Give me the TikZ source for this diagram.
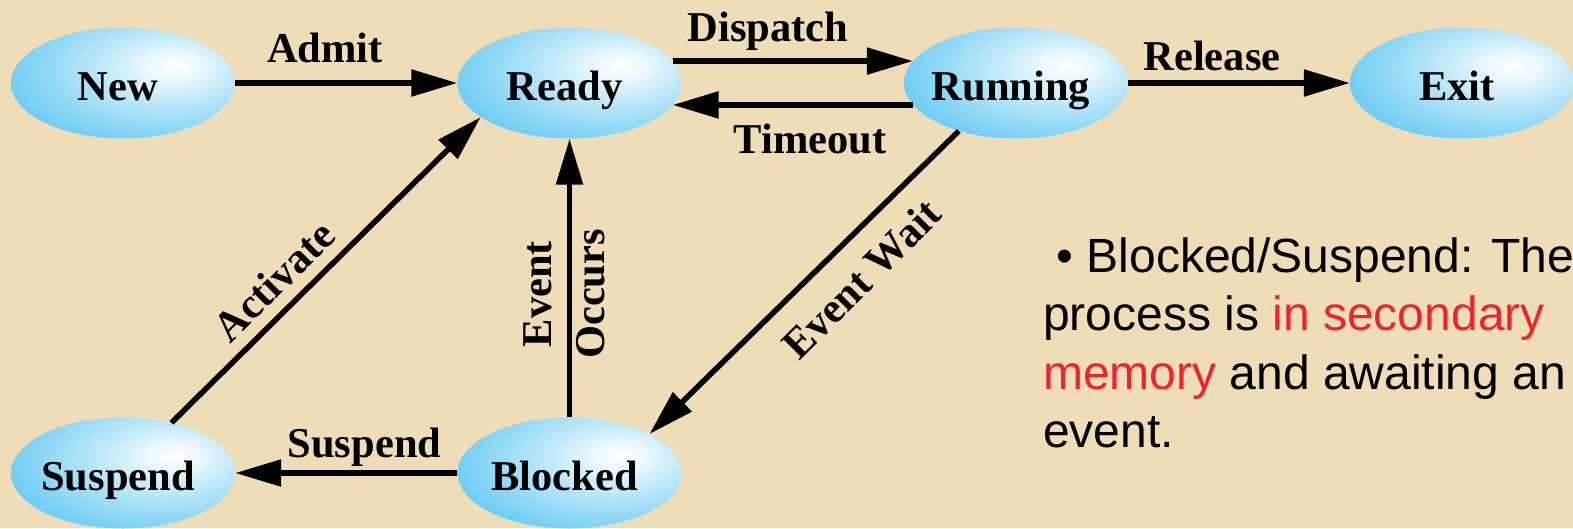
\documentclass[tikz,border=0pt]{standalone}
\usepackage{fontspec}
\setmainfont{Liberation Serif}
\setsansfont{Liberation Sans}
\usetikzlibrary{arrows.meta,shapes.geometric}

\definecolor{parchment}{RGB}{238,221,182}
\definecolor{stateblue}{RGB}{74,192,241}
\definecolor{notered}{RGB}{240,35,45}

% sky-blue ellipse fill with an off-centre highlight
\pgfdeclareradialshading{statefill}{\pgfpoint{12bp}{8bp}}{%
  color(0bp)=(white);
  color(6bp)=(white!88!stateblue);
  color(18bp)=(white!58!stateblue);
  color(30bp)=(white!30!stateblue);
  color(44bp)=(stateblue);
  color(100bp)=(stateblue)}

\tikzset{
  proc/.style={ellipse, shade, shading=statefill, draw=none,
    minimum width=224pt, minimum height=111pt, inner sep=0pt,
    font=\fontsize{42.5}{50}\selectfont\bfseries,
    text height=35pt, text depth=0pt},
  lbl/.style={inner sep=0pt, font=\fontsize{42.5}{53}\selectfont\bfseries},
  flow/.style={line width=5.5pt, -{Triangle[length=46pt,width=26pt]}},
  note/.style={inner sep=0pt, anchor=base west,
    font=\sffamily\fontsize{48}{58.5}\selectfont}
}

\begin{document}
\begin{tikzpicture}[x=1pt,y=-1pt]
  \fill[parchment] (0,0) rectangle (1573,528);
  \useasboundingbox (0,0) rectangle (1573,528);

  % process states
  \node[proc] (new)     at (123,83)    {\hspace*{-10pt}New};
  \node[proc] (ready)   at (569.5,83)  {\hspace*{-10pt}Ready};
  \node[proc] (running) at (1016,83)   {\hspace*{-10pt}Running};
  \node[proc] (exit)    at (1462,83)   {\hspace*{-10pt}Exit};
  \node[proc] (suspend) at (123,473)   {\hspace*{-10pt}Suspend};
  \node[proc] (blocked) at (569.5,473) {\hspace*{-10pt}Blocked};

  % transitions
  \draw[flow] (new) -- (ready);
  \draw[flow] (ready.12) -- (running.168);
  \draw[flow] (running.192) -- (ready.-12);
  \draw[flow] (running) -- (exit);
  \draw[flow] (suspend.46) -- (ready.201);
  \draw[flow] (blocked) -- (ready);
  \draw[flow] (running.220) -- (blocked.26);
  \draw[flow] (blocked) -- (suspend);

  % transition labels
  \node[lbl, anchor=base] (admit)    at (325,62)   {Admit};
  \node[lbl, anchor=base] (dispatch) at (768,41)   {Dispatch};
  \node[lbl, anchor=base] (timeout)  at (810,153)  {Timeout};
  \node[lbl, anchor=base] (release)  at (1212,70)  {Release};
  \node[lbl, anchor=base] (susplbl)  at (364.5,457) {Suspend};
  \node[lbl, rotate=45] (activate)  at (274,281)  {Activate};
  \node[lbl, rotate=45] (eventwait) at (861,279)  {Event Wait};
  \node[lbl, rotate=90, align=center] (occurs) at (564,294) {Event\\Occurs};

  % explanatory note
  \node[note] (blkdesc) at (1043,272) {\vtop{\baselineskip=58.5pt
    \hbox{\hspace*{0.278em}\textbullet\ Blocked/Suspend: The}
    \hbox{process is \textcolor{notered}{in secondary}}
    \hbox{\textcolor{notered}{memory} and awaiting an}
    \hbox{event.}}};
\end{tikzpicture}
\end{document}
